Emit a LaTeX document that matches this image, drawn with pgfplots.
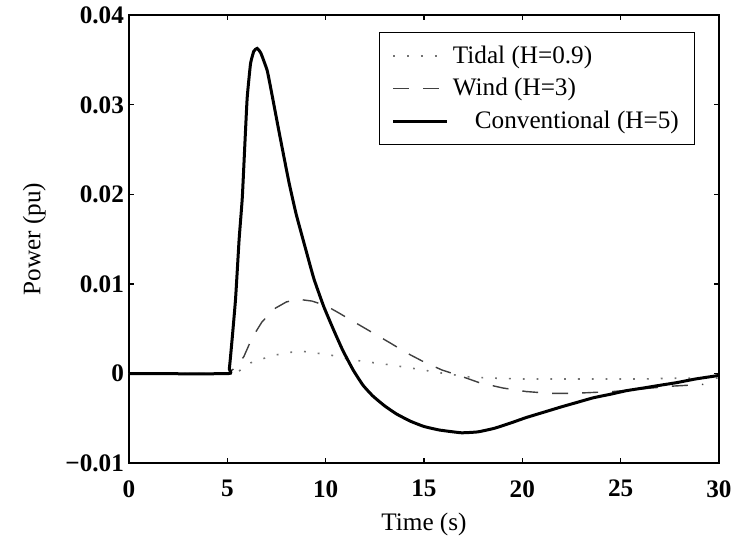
\documentclass[border=0pt]{standalone}
\usepackage{fontspec}
\setmainfont{Liberation Serif}
\usepackage{pgfplots}
\pgfplotsset{compat=1.18}
\definecolor{tidalgray}{gray}{0.45}
\definecolor{windgray}{gray}{0.25}

\begin{document}
\begin{tikzpicture}
\begin{axis}[
    name=main,
    scale only axis,
    width=295pt,
    height=224pt,
    xmin=0, xmax=30,
    ymin=-0.01, ymax=0.04,
    xtick={0,5,10,15,20,25,30},
    ytick={-0.01,0,0.01,0.02,0.03,0.04},
    yticklabels={−0.01,0,0.01,0.02,0.03,0.04},
    /pgf/number format/assume math mode=true,
    scaled y ticks=false,
    tick align=inside,
    major tick length=2.5pt,
    tick style={black, line width=0.6pt},
    axis line style={line width=0.8pt},
    font=\fontsize{12.6}{14.5}\selectfont,
    ticklabel style={font=\fontsize{12.6}{14.5}\selectfont\bfseries},
    xticklabel style={yshift=-5pt},
    yticklabel style={xshift=1pt},
    xlabel={Time (s)},
    ylabel={Power (pu)},
    xlabel style={yshift=-1pt},
    ylabel style={yshift=3pt},
    legend style={at={(rel axis cs:0.96,0.962)}, anchor=north east,
        draw=black, line width=0.6pt, inner xsep=6pt, inner ysep=4.5pt,
        row sep=2pt, font=\fontsize{12.6}{14.5}\selectfont},
    legend cell align=left,
    legend image code/.code={\draw[#1] (0cm,0cm) -- (0.95cm,0cm);},
]
% tidal
\addplot[tidalgray, line width=0.8pt, dash pattern=on 0.9pt off 6pt] coordinates {
(0,0) (5,0) (5.6,0.0003) (6.18,0.0012) (6.86,0.0017) (7.5,0.0021) (8.29,0.0024)
(8.8,0.0025) (9.13,0.0024) (10.2,0.0021) (11.0,0.0017) (11.8,0.0014) (13.2,0.0010)
(14.7,0.0005) (15.5,0.0002) (16.4,-0.0001) (17.4,-0.0004) (18.5,-0.0005) (20,-0.0006)
(22,-0.0006) (24,-0.0006) (26,-0.0006) (28,-0.0005) (30,-0.0005)
};
\addlegendentry{Tidal (H=0.9)}
% wind
\addplot[windgray, line width=0.7pt, dash pattern=on 8pt off 7pt] coordinates {
(0,0) (5,0) (5.3,0.0005) (5.6,0.0012) (5.84,0.0019) (6.26,0.0040) (6.77,0.0058)
(7.44,0.0073) (8.0,0.0080) (8.6,0.0083) (9.3,0.0081) (10.0,0.0076) (10.65,0.0068)
(11.5,0.0057) (12.44,0.0045) (13.3,0.0034) (14.13,0.0023) (15.0,0.0013) (15.92,0.0004)
(16.9,-0.0003) (17.8,-0.0010) (19.0,-0.0016) (20.2,-0.0020) (21.4,-0.0022) (22.6,-0.0022)
(23.6,-0.0021) (24.6,-0.0020) (25.6,-0.0018) (26.6,-0.0016) (27.6,-0.0014) (28.4,-0.0013)
(29.2,-0.0012)
};
\addlegendentry{Wind (H=3)}
% conventional
\addplot[black, line width=1.5pt, smooth, tension=0.25] coordinates {
(0,0) (5,0) (5.1,0.0005) (5.25,0.004) (5.42,0.0084) (5.6,0.015) (5.76,0.0196)
(5.9,0.026) (6.01,0.0308) (6.18,0.0346) (6.35,0.0360) (6.52,0.0363) (6.7,0.0358)
(7.03,0.0338) (7.3,0.0308) (7.62,0.0271) (8.12,0.0215) (8.5,0.0178) (8.97,0.0140)
(9.4,0.0106) (9.9,0.0075) (10.4,0.0049) (10.87,0.0026) (11.4,0.0004) (11.9,-0.0013)
(12.4,-0.0025) (13.0,-0.0036) (13.6,-0.0045) (14.3,-0.0053) (15.0,-0.0059) (15.8,-0.0063)
(16.9,-0.0066) (17.74,-0.0065) (18.58,-0.0061) (19.42,-0.0055) (20.2,-0.0049) (21.1,-0.0043)
(22.0,-0.0037) (22.8,-0.0032) (23.6,-0.0027) (24.48,-0.0023) (25.3,-0.0019) (26.17,-0.0016)
(27.0,-0.0013) (27.86,-0.0010) (28.8,-0.0006) (30,-0.0002)
};
\addlegendentry{\hspace{11pt}Conventional (H=5)\hspace{8pt}}
\end{axis}
\path (main.south west) +(-64.5pt,-40pt) (main.north east) +(10pt,7.5pt);
\end{tikzpicture}
\end{document}
